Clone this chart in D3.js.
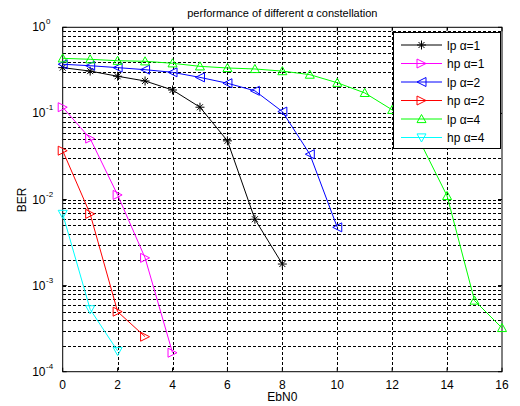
<!DOCTYPE html>
<meta charset="utf-8">
<html>
<style>
 body { margin:0; background:#fff; }
 svg { display:block; font-family:"Liberation Sans", Arial, sans-serif; }
</style>
<script src="https://cdn.jsdelivr.net/npm/d3@7"></script>
<svg width="520" height="406"></svg>
<script>
// data
const ebn0 = [0,1,2,3,4,5,6,7,8,9,10,11,12,13,14,15,16];
const lp1 = [0.34,0.31,0.27,0.238,0.187,0.118,0.048,0.0059,0.00178];
const hp1 = [0.118,0.051,0.0113,0.0021,0.000166];
const lp2 = [0.372,0.358,0.34,0.322,0.30,0.262,0.224,0.183,0.105,0.0336,0.00475];
const hp2 = [0.0369,0.0068,0.000498,0.000255];
const lp4 = [0.436,0.425,0.409,0.403,0.382,0.352,0.337,0.328,0.31,0.282,0.227,0.173,0.11,0.048,0.011,0.00067,0.000322];
const hp4 = [0.0068,0.00053,0.000174];
const seriesNames = ["lp \u03b1=1","hp \u03b1=1","lp \u03b1=2","hp \u03b1=2","lp \u03b1=4","hp \u03b1=4"];
const xTicks = [0,2,4,6,8,10,12,14,16];
const yDecades = [0,-1,-2,-3,-4];

const series = [
	{name:seriesNames[0], vals:lp1, color:"#000000", marker:"star"},
	{name:seriesNames[1], vals:hp1, color:"#ff00ff", marker:"right"},
	{name:seriesNames[2], vals:lp2, color:"#0000ff", marker:"left"},
	{name:seriesNames[3], vals:hp2, color:"#ff0000", marker:"right"},
	{name:seriesNames[4], vals:lp4, color:"#00ff00", marker:"up"},
	{name:seriesNames[5], vals:hp4, color:"#00ffff", marker:"down"}
];

const svg = d3.select('svg');
const pLeft = 62.7, pRight = 502, pTop = 27.3, pBottom = 371.7;

const x = d3.scaleLinear().domain([0,16]).range([pLeft,pRight]);
const y = d3.scaleLog().domain([1e-4,1]).range([pBottom,pTop]);

svg.append('rect').attr('width',520).attr('height',406).attr('fill','#fff');

// grid
const grid = svg.append('g')
	.attr('stroke','#000')
	.attr('stroke-width',1)
	.attr('stroke-dasharray','3,2')
	.attr('shape-rendering','crispEdges');
xTicks.slice(1,-1).forEach(t=>{
	grid.append('line')
		.attr('x1',Math.round(x(t))+0.5).attr('x2',Math.round(x(t))+0.5)
		.attr('y1',pTop).attr('y2',pBottom);
});
const yGrid = [];
for (let e=-4; e<0; e++){
	for (let m=1; m<10; m++){
		const v = m*Math.pow(10,e);
		if (v>1e-4) yGrid.push(v);
	}
}
yGrid.forEach(v=>{
	grid.append('line')
		.attr('x1',pLeft).attr('x2',pRight)
		.attr('y1',Math.round(y(v))+0.5).attr('y2',Math.round(y(v))+0.5);
});

// axes box
svg.append('rect')
	.attr('x',pLeft).attr('y',pTop)
	.attr('width',pRight-pLeft).attr('height',pBottom-pTop)
	.attr('fill','none').attr('stroke','#000').attr('stroke-width',1);

// ticks inside
const ticks = svg.append('g').attr('stroke','#000').attr('stroke-width',1);
xTicks.forEach(t=>{
	ticks.append('line').attr('x1',x(t)).attr('x2',x(t)).attr('y1',pBottom).attr('y2',pBottom-4);
	ticks.append('line').attr('x1',x(t)).attr('x2',x(t)).attr('y1',pTop).attr('y2',pTop+4);
});
yDecades.forEach(e=>{
	const yy = y(Math.pow(10,e));
	ticks.append('line').attr('x1',pLeft).attr('x2',pLeft+4).attr('y1',yy).attr('y2',yy);
	ticks.append('line').attr('x1',pRight).attr('x2',pRight-4).attr('y1',yy).attr('y2',yy);
});

// tick labels
xTicks.forEach(t=>{
	svg.append('text')
		.attr('x',x(t)).attr('y',388.5)
		.attr('text-anchor','middle')
		.attr('font-size',12)
		.attr('fill','#000')
		.text(t);
});
yDecades.forEach(e=>{
	const yy = y(Math.pow(10,e));
	svg.append('text')
		.attr('x',45.5).attr('y',yy+4)
		.attr('text-anchor','end')
		.attr('font-size',12)
		.attr('fill','#000')
		.text('10');
	svg.append('text')
		.attr('x',46).attr('y',yy-3)
		.attr('font-size',8)
		.attr('fill','#000')
		.text(e===0 ? '0' : '-' + (-e));
});

// titles
svg.append('text')
	.attr('x',(pLeft+pRight)/2).attr('y',17)
	.attr('text-anchor','middle')
	.attr('font-size',11)
	.text('performance of different \u03b1 constellation');
svg.append('text')
	.attr('x',(pLeft+pRight)/2).attr('y',401)
	.attr('text-anchor','middle')
	.attr('font-size',12)
	.text('EbN0');
svg.append('text')
	.attr('transform','translate(26,200) rotate(-90)')
	.attr('text-anchor','middle')
	.attr('font-size',12)
	.text('BER');

// markers
const drawMarker = (g, type, cx, cy, color)=>{
	const s = 4.5;
	let pts;
	if (type === 'star'){
		const p = g.append('g').attr('stroke',color).attr('stroke-width',1);
		p.append('line').attr('x1',cx-s).attr('x2',cx+s).attr('y1',cy).attr('y2',cy);
		p.append('line').attr('x1',cx).attr('x2',cx).attr('y1',cy-s).attr('y2',cy+s);
		p.append('line').attr('x1',cx-3).attr('x2',cx+3).attr('y1',cy-3).attr('y2',cy+3);
		p.append('line').attr('x1',cx-3).attr('x2',cx+3).attr('y1',cy+3).attr('y2',cy-3);
		return;
	}
	if (type === 'right') pts = [[cx-s,cy-s],[cx+s,cy],[cx-s,cy+s]];
	if (type === 'left') pts = [[cx+s,cy-s],[cx-s,cy],[cx+s,cy+s]];
	if (type === 'up') pts = [[cx-s,cy+s*0.8],[cx,cy-s],[cx+s,cy+s*0.8]];
	if (type === 'down') pts = [[cx-s,cy-s*0.8],[cx,cy+s],[cx+s,cy-s*0.8]];
	g.append('polygon')
		.attr('points',pts.map(p=>p.join(',')).join(' '))
		.attr('fill','none')
		.attr('stroke',color)
		.attr('stroke-width',1);
};

const line = d3.line()
	.x((d,i)=>x(ebn0[i]))
	.y(d=>y(d));

const plot = svg.append('g');
series.forEach(s=>{
	plot.append('path')
		.attr('d',line(s.vals))
		.attr('fill','none')
		.attr('stroke',s.color)
		.attr('stroke-width',1);
	s.vals.forEach((v,i)=>drawMarker(plot,s.marker,x(ebn0[i]),y(v),s.color));
});

// legend
const lg = svg.append('g');
lg.append('rect')
	.attr('x',393.5).attr('y',32.5)
	.attr('width',107).attr('height',116)
	.attr('fill','#fff').attr('stroke','#000').attr('stroke-width',1);
series.forEach((s,i)=>{
	const ly = 45 + i*18.5;
	lg.append('line')
		.attr('x1',401).attr('x2',442)
		.attr('y1',ly).attr('y2',ly)
		.attr('stroke',s.color).attr('stroke-width',1);
	drawMarker(lg,s.marker,421.5,ly,s.color);
	lg.append('text')
		.attr('x',447).attr('y',ly+4.5)
		.attr('font-size',12)
		.text(s.name);
});
</script>
</html>
